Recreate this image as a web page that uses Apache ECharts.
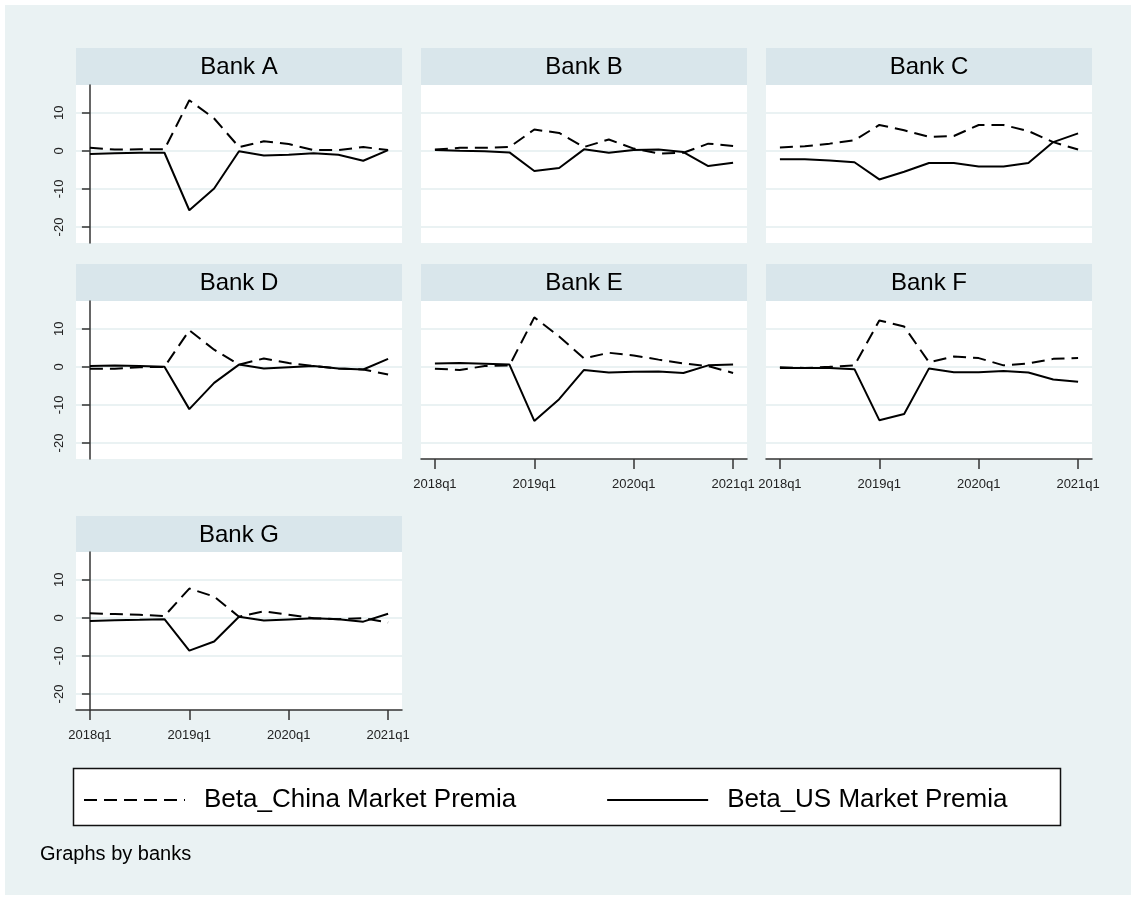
<!DOCTYPE html>
<html lang="en">
<head>
    <meta charset="UTF-8">
    <script src="https://cdn.jsdelivr.net/npm/echarts@6/dist/echarts.min.js"></script>
    <title>Betas by bank</title>
</head>
<body>
    <style>
        html, body { margin: 0; background: #fff; }
        #main { width: 1134px; height: 900px; }
    </style>
    <div id="main"></div>
    <script>
        var quarters = ['2018q1', '2018q2', '2018q3', '2018q4', '2019q1', '2019q2', '2019q3',
            '2019q4', '2020q1', '2020q2', '2020q3', '2020q4', '2021q1'];
        var banks = ['Bank A', 'Bank B', 'Bank C', 'Bank D', 'Bank E', 'Bank F', 'Bank G'];

        // Beta_China Market Premia (dashed)
        var chinaA = [0.8, 0.35, 0.4, 0.4, 13.3, 8.5, 1.0, 2.5, 1.8, 0.2, 0.2, 1.0, 0.2];
        var chinaB = [0.35, 0.8, 0.8, 1.0, 5.6, 4.7, 1.0, 3.0, 0.6, -0.7, -0.5, 1.9, 1.3];
        var chinaC = [0.9, 1.2, 1.9, 2.8, 6.8, 5.4, 3.7, 3.9, 6.8, 6.8, 5.2, 2.3, 0.35];
        var chinaD = [-0.5, -0.5, -0.1, 0, 9.6, 4.5, 0.6, 2.2, 1.0, 0.2, -0.4, -0.7, -2.0];
        var chinaE = [-0.5, -0.8, 0.2, 0.35, 13.0, 8.0, 2.2, 3.7, 3.0, 1.9, 0.9, 0.2, -1.6];
        var chinaF = [-0.1, -0.3, 0, 0.35, 12.2, 10.6, 1.2, 2.7, 2.3, 0.4, 0.9, 2.1, 2.3];
        var chinaG = [1.2, 1.0, 0.8, 0.5, 7.7, 5.6, 0.3, 1.7, 0.8, -0.1, -0.35, -0.1, -1.2];

        // Beta_US Market Premia (solid)
        var usA = [-0.8, -0.6, -0.5, -0.5, -15.6, -9.9, -0.1, -1.2, -1.0, -0.6, -1.0, -2.6, 0.2];
        var usB = [0.2, 0, -0.1, -0.4, -5.3, -4.5, 0.4, -0.5, 0.2, 0.35, -0.3, -4.0, -3.1];
        var usC = [-2.2, -2.2, -2.5, -3.0, -7.5, -5.5, -3.2, -3.2, -4.1, -4.1, -3.2, 2.3, 4.6];
        var usD = [0.2, 0.35, 0.2, 0, -11.1, -4.2, 0.6, -0.4, -0.1, 0.2, -0.4, -0.7, 2.1];
        var usE = [0.9, 1.0, 0.8, 0.6, -14.2, -8.5, -0.8, -1.5, -1.3, -1.2, -1.6, 0.4, 0.6];
        var usF = [-0.3, -0.3, -0.3, -0.6, -14.0, -12.4, -0.4, -1.4, -1.4, -1.1, -1.5, -3.3, -3.9];
        var usG = [-0.8, -0.6, -0.5, -0.35, -8.6, -6.2, 0.3, -0.7, -0.4, -0.1, -0.35, -1.0, 1.1];

        var yTicks = [-20, -10, 0, 10];
        var xTicks = [0, 4, 8, 12];

        var chinaName = 'Beta_China Market Premia';
        var usName = 'Beta_US Market Premia';
        var china = [chinaA, chinaB, chinaC, chinaD, chinaE, chinaF, chinaG];
        var us = [usA, usB, usC, usD, usE, usF, usG];

        var FONT = 'Liberation Sans, Arial, Helvetica, sans-serif';
        var BG = '#eaf2f3';
        var HEAD = '#d9e6eb';
        var AXIS = '#333';

        // panel layout
        var colLeft = [76, 421, 766];
        var rowTop = [85, 301, 552];
        var headTop = [48, 264, 516];
        var panelW = 326, panelH = 158, headH = 37;
        var showY = [true, false, false, true, false, false, true];
        var showX = [false, false, false, false, true, true, true];

        function pairs(arr) {
            return arr.map(function (v, i) { return [i, v]; });
        }

        var grid = [], xAxis = [], yAxis = [], series = [];
        var graphic = [{
            type: 'rect', z: -100,
            shape: { x: 5, y: 5, width: 1126, height: 890 },
            style: { fill: BG }
        }];

        banks.forEach(function (name, k) {
            var col = k % 3, row = Math.floor(k / 3);
            var left = colLeft[col];
            grid.push({
                left: left, top: rowTop[row], width: panelW, height: panelH,
                show: true, backgroundColor: '#fff', borderWidth: 0
            });
            graphic.push({
                type: 'rect', z: -50,
                shape: { x: left, y: headTop[row], width: panelW, height: headH },
                style: { fill: HEAD }
            });
            graphic.push({
                type: 'text', z: -40,
                x: left + panelW / 2, y: headTop[row] + headH / 2 + 1,
                style: {
                    text: name, fill: '#000', font: '24px ' + FONT,
                    align: 'center', verticalAlign: 'middle',
                    textAlign: 'center', textVerticalAlign: 'middle'
                }
            });
            xAxis.push({
                type: 'value', gridIndex: k, min: -0.56, max: 12.56,
                axisLine: { show: showX[k], onZero: false, lineStyle: { color: AXIS, width: 1.5 } },
                axisTick: { show: showX[k], length: 10, customValues: xTicks, lineStyle: { color: AXIS, width: 1.5 } },
                axisLabel: {
                    show: showX[k], customValues: xTicks, fontSize: 13, color: '#222', margin: 19,
                    fontFamily: FONT,
                    formatter: function (v) { return quarters[v]; }
                },
                splitLine: { show: false }
            });
            yAxis.push({
                type: 'value', gridIndex: k, min: -24.2, max: 17.3,
                axisLine: { show: showY[k], lineStyle: { color: AXIS, width: 1.5 } },
                axisTick: { show: showY[k], length: 8, customValues: yTicks, lineStyle: { color: AXIS, width: 1.5 } },
                axisLabel: {
                    show: showY[k], customValues: yTicks, rotate: 90, fontSize: 13, color: '#222',
                    margin: 10, fontFamily: FONT
                },
                splitLine: { show: true, lineStyle: { color: BG, width: 2 } }
            });
            series.push({
                name: chinaName, type: 'line', xAxisIndex: k, yAxisIndex: k,
                data: pairs(china[k]), symbol: 'none', animation: false,
                itemStyle: { color: '#000' },
                lineStyle: { color: '#000', width: 2, type: [13, 7] }
            });
            series.push({
                name: usName, type: 'line', xAxisIndex: k, yAxisIndex: k,
                data: pairs(us[k]), symbol: 'none', animation: false,
                itemStyle: { color: '#000' },
                lineStyle: { color: '#000', width: 2, type: 'solid' }
            });
        });

        // legend box and note
        graphic.push({
            type: 'rect', z: 1,
            shape: { x: 73.5, y: 768.5, width: 987, height: 57 },
            style: { fill: '#fff', stroke: '#111', lineWidth: 1.5 }
        });
        graphic.push({
            type: 'text', z: 1,
            x: 40, y: 854,
            style: {
                text: 'Graphs by banks', fill: '#000', font: '20px ' + FONT,
                align: 'left', verticalAlign: 'middle',
                textAlign: 'left', textVerticalAlign: 'middle'
            }
        });

        var chart = echarts.init(document.getElementById('main'));
        chart.setOption({
            animation: false,
            backgroundColor: '#fff',
            textStyle: { fontFamily: FONT },
            grid: grid,
            xAxis: xAxis,
            yAxis: yAxis,
            series: series,
            graphic: graphic,
            legend: {
                data: [chinaName, usName],
                left: 83, top: 785,
                itemWidth: 101, itemHeight: 14, itemGap: 90,
                padding: 0,
                itemStyle: { color: 'transparent', borderWidth: 0, opacity: 0 },
                textStyle: { fontSize: 26, color: '#000', lineHeight: 30, padding: [0, 0, 0, 14], fontFamily: FONT }
            }
        });
    </script>
</body>
</html>
